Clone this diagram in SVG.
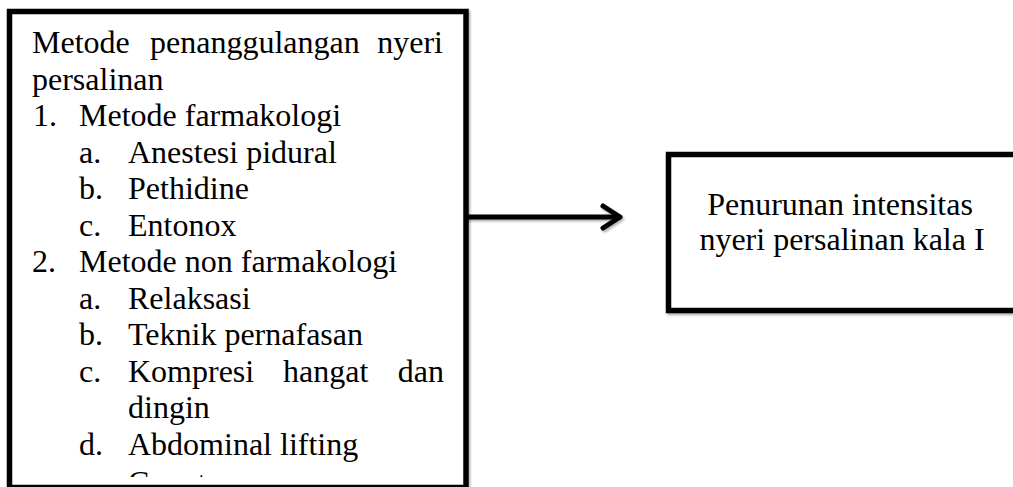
<svg xmlns="http://www.w3.org/2000/svg" width="1013" height="487" viewBox="0 0 1013 487">
  <style>
    .box { fill: #ffffff; stroke: #000000; stroke-width: 5.5; filter: url(#shadow); }
    .t { font-family: "Liberation Serif", "Times New Roman", serif; font-size: 32px; fill: #000000; }
    .c { text-anchor: middle; }
    .e { text-anchor: end; }
    .conn { fill: none; stroke: #000000; stroke-width: 5; stroke-linecap: round; stroke-linejoin: round; }
  </style>
  <defs>
    <filter id="shadow" filterUnits="userSpaceOnUse" x="0" y="0" width="1013" height="487">
      <feDropShadow dx="1.5" dy="2" stdDeviation="1.2" flood-color="#000000" flood-opacity="0.3"/>
    </filter>
    <clipPath id="leftClip">
      <rect x="12" y="14" width="451" height="463"/>
    </clipPath>
  </defs>
  <rect x="0" y="0" width="1013" height="487" fill="#ffffff"/>

  <g id="connectors" filter="url(#shadow)">
    <line class="conn" x1="466" y1="217" x2="619" y2="217"/>
    <polyline class="conn" points="603,206 620,217 603,228"/>
  </g>

  <g id="node-metode">
    <rect class="box" x="9.5" y="11.5" width="456.5" height="476"/>
    <g clip-path="url(#leftClip)">
      <text class="t" x="32" y="53">Metode</text>
      <text class="t" x="150" y="53">penanggulangan</text>
      <text class="t e" x="443" y="53">nyeri</text>
      <text class="t" x="32" y="89.5">persalinan</text>
      <text class="t" x="33" y="126">1.</text>
      <text class="t" x="79" y="126">Metode farmakologi</text>
      <text class="t" x="79" y="162.5">a.</text>
      <text class="t" x="128" y="162.5">Anestesi pidural</text>
      <text class="t" x="79" y="199">b.</text>
      <text class="t" x="128" y="199">Pethidine</text>
      <text class="t" x="79" y="235.5">c.</text>
      <text class="t" x="128" y="235.5">Entonox</text>
      <text class="t" x="32" y="272">2.</text>
      <text class="t" x="79" y="272">Metode non farmakologi</text>
      <text class="t" x="79" y="308.5">a.</text>
      <text class="t" x="128" y="308.5">Relaksasi</text>
      <text class="t" x="79" y="345">b.</text>
      <text class="t" x="128" y="345">Teknik pernafasan</text>
      <text class="t" x="79" y="381.5">c.</text>
      <text class="t" x="128" y="381.5">Kompresi</text>
      <text class="t" x="283" y="381.5">hangat</text>
      <text class="t e" x="444" y="381.5">dan</text>
      <text class="t" x="128" y="418">dingin</text>
      <text class="t" x="79" y="454.5">d.</text>
      <text class="t" x="128" y="454.5">Abdominal lifting</text>
      <text class="t" x="79" y="493">e.</text>
      <text class="t" x="128" y="493">Counterpressure</text>
    </g>
  </g>

  <g id="node-penurunan">
    <rect class="box" x="668.5" y="154.5" width="360" height="156"/>
    <text class="t c" x="840" y="214.5">Penurunan intensitas</text>
    <text class="t c" x="842" y="249.5">nyeri persalinan kala I</text>
  </g>
</svg>
